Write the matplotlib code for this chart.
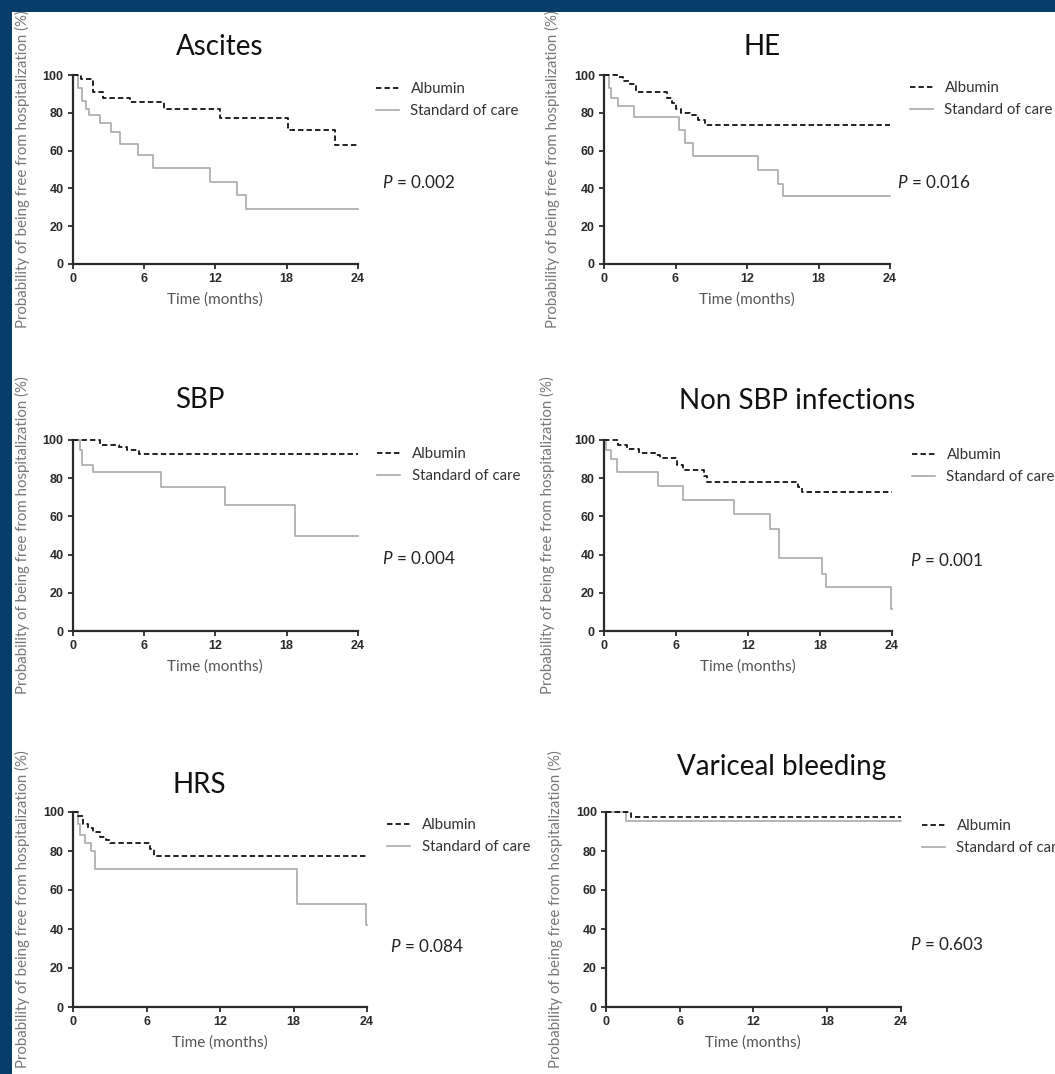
import matplotlib.pyplot as plt
from matplotlib.patches import Rectangle

# data: Kaplan-Meier steps (months, % free from hospitalization)
titles = ['Ascites', 'HE', 'SBP', 'Non SBP infections', 'HRS', 'Variceal bleeding']
p_values = ['0.002', '0.016', '0.004', '0.001', '0.084', '0.603']

ascites_alb_t = [0, 0.7, 1.7, 2.6, 4.8, 7.7, 12.4, 18.1, 22.1, 24]
ascites_alb_s = [100, 98, 91, 88, 85.5, 82, 77.5, 71, 63, 63]
ascites_soc_t = [0, 0.5, 0.8, 1.1, 1.4, 2.3, 3.2, 4.0, 5.5, 6.8, 11.6, 13.8, 14.6, 24]
ascites_soc_s = [100, 93, 86, 82, 79, 74.5, 70, 63.5, 57.5, 51, 43.5, 36.5, 29, 29]

he_alb_t = [0, 1.1, 1.6, 2.2, 2.7, 5.3, 5.7, 6.0, 6.5, 7.2, 7.9, 8.5, 24]
he_alb_s = [100, 99, 97, 95, 91, 88, 85, 82, 80, 79, 76, 73.5, 73.5]
he_soc_t = [0, 0.4, 0.6, 1.2, 2.5, 6.3, 6.8, 7.5, 12.9, 14.6, 15.0, 24]
he_soc_s = [100, 93, 88, 83.5, 78, 71, 64, 57, 50, 42.5, 36, 36]

sbp_alb_t = [0, 2.3, 3.9, 4.6, 5.6, 24]
sbp_alb_s = [100, 97.5, 96.5, 95, 92.5, 92.5]
sbp_soc_t = [0, 0.6, 0.8, 1.7, 7.4, 12.8, 18.7, 24]
sbp_soc_s = [100, 95, 87, 83, 75.5, 66, 49.5, 49.5]

nsbp_alb_t = [0, 1.2, 1.9, 2.9, 4.3, 4.7, 6.1, 6.6, 8.3, 8.6, 16.2, 16.5, 24]
nsbp_alb_s = [100, 97.5, 95.5, 93, 92, 90.5, 87, 84.5, 81, 78, 75.5, 73, 73]
nsbp_soc_t = [0, 0.2, 0.6, 1.1, 4.5, 6.6, 10.8, 13.8, 14.6, 18.2, 18.5, 23.9, 24]
nsbp_soc_s = [100, 95, 90, 83, 76, 68.5, 61, 53.5, 38, 30, 23, 11.5, 11.5]

hrs_alb_t = [0, 0.4, 0.8, 1.2, 1.6, 2.2, 2.7, 3.0, 6.3, 6.6, 24]
hrs_alb_s = [100, 98, 94, 92, 90, 87, 85.5, 84, 81, 77.5, 77.5]
hrs_soc_t = [0, 0.4, 0.6, 1.0, 1.5, 1.8, 18.3, 23.9, 24]
hrs_soc_s = [100, 94, 88, 84, 80, 71, 53, 42, 42]

vb_alb_t = [0, 2.0, 24]
vb_alb_s = [100, 97.5, 97.5]
vb_soc_t = [0, 1.6, 24]
vb_soc_s = [100, 95.5, 95.5]

curves = [
    (ascites_alb_t, ascites_alb_s, ascites_soc_t, ascites_soc_s),
    (he_alb_t, he_alb_s, he_soc_t, he_soc_s),
    (sbp_alb_t, sbp_alb_s, sbp_soc_t, sbp_soc_s),
    (nsbp_alb_t, nsbp_alb_s, nsbp_soc_t, nsbp_soc_s),
    (hrs_alb_t, hrs_alb_s, hrs_soc_t, hrs_soc_s),
    (vb_alb_t, vb_alb_s, vb_soc_t, vb_soc_s),
]

# layout in pixels (x0, x24, y100, y0) and text anchors
W, H = 1055, 1074
boxes = [(72.5, 358, 75, 264), (604, 890, 75, 264),
         (72.5, 358, 440, 631), (604, 892, 440, 631),
         (73, 367, 812, 1007), (606, 900.5, 812, 1007)]
title_xy = [(220, 47), (762, 47), (200, 400), (797, 401), (199, 785), (782, 767)]
p_xy = [(382, 183), (897, 183), (382, 558), (910, 561), (390, 946), (910, 945)]
leg_xy = [(376, 100), (910, 99), (377, 465), (912, 466), (387, 836), (922, 837)]
ylab_x = [22, 552, 22, 547, 22, 555]

plt.rcParams['mathtext.fontset'] = 'custom'
plt.rcParams['mathtext.it'] = 'Lato:italic'
plt.rcParams['mathtext.rm'] = 'Lato'


def fx(x):
    return x / W


def fy(y):
    return 1 - y / H


fig = plt.figure(figsize=(W / 100, H / 100), dpi=100, facecolor='#063d69')
fig.patches.append(Rectangle((fx(12), 0), 1 - fx(12), fy(12), transform=fig.transFigure,
                             facecolor='white', edgecolor='none', zorder=-10))

for i in range(6):
    x0, x1, ytop, ybot = boxes[i]
    ax = fig.add_axes([fx(x0), fy(ybot), fx(x1 - x0), (ybot - ytop) / H])
    ax.set_facecolor('none')
    alb_t, alb_s, soc_t, soc_s = curves[i]
    l_soc, = ax.plot(soc_t, soc_s, drawstyle='steps-post', color='#a9a9a9', lw=1.2,
                     clip_on=False, label='Standard of care')
    l_alb, = ax.plot(alb_t, alb_s, drawstyle='steps-post', color='#111111', lw=1.3,
                     dashes=(3, 1.7), clip_on=False, label='Albumin')
    ax.set_xlim(0, 24)
    ax.set_ylim(0, 100)
    ax.set_xticks([0, 6, 12, 18, 24])
    ax.set_yticks([0, 20, 40, 60, 80, 100])
    for s in ['top', 'right']:
        ax.spines[s].set_visible(False)
    for s in ['left', 'bottom']:
        ax.spines[s].set_linewidth(1.6)
        ax.spines[s].set_color('#2a2a2a')
    ax.tick_params(direction='out', length=3.5, width=1.3, color='#2a2a2a', pad=3,
                   labelsize=9, labelcolor='#2a2a2a')
    for lab in ax.get_xticklabels() + ax.get_yticklabels():
        lab.set_fontweight('bold')
        lab.set_family('Liberation Sans')
    ax.set_xlabel('Time (months)', family='Lato', fontsize=11, color='#555555', labelpad=5)

    ax.legend(handles=[l_alb, l_soc], loc='center left', bbox_to_anchor=(fx(leg_xy[i][0]), fy(leg_xy[i][1])),
              bbox_transform=fig.transFigure, frameon=False, prop={'family': 'Lato', 'size': 10.8},
              labelcolor='#333333', handlelength=1.55, handletextpad=0.75, labelspacing=0.55,
              borderpad=0, borderaxespad=0)

    fig.text(fx(title_xy[i][0]), fy(title_xy[i][1]), titles[i], family='Lato', fontsize=20,
             color='#111111', ha='center', va='center')
    fig.text(fx(p_xy[i][0]), fy(p_xy[i][1]), '$P$ = ' + p_values[i], family='Lato', fontsize=12.3,
             color='#222222', ha='left', va='center')
    fig.text(fx(ylab_x[i]), fy((ytop + ybot) / 2), 'Probability of being free from hospitalization (%)',
             family='Lato', fontsize=10.8, color='#777777', rotation=90, ha='center', va='center')

fig.savefig('out.png', dpi=100, facecolor=fig.get_facecolor())
